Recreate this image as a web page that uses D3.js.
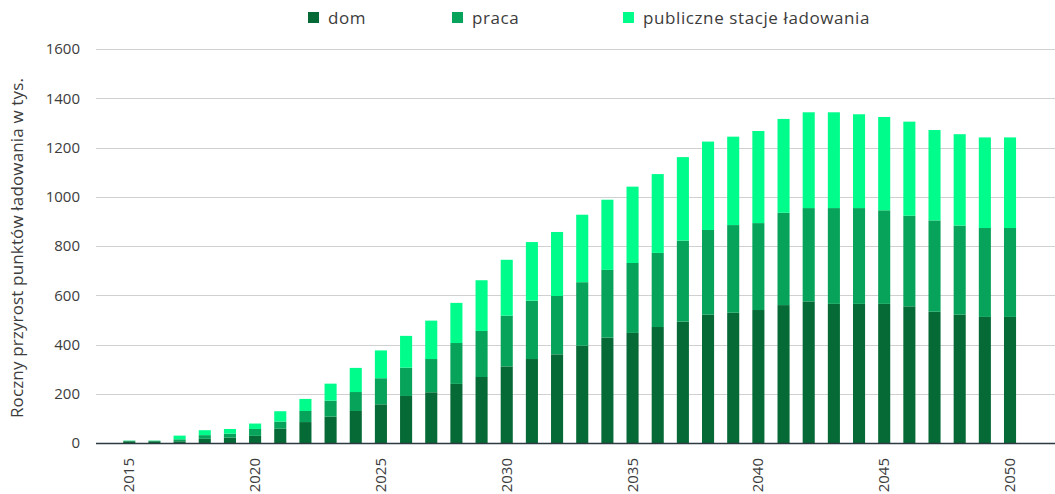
<!DOCTYPE html>
<html>
<head>
<meta charset="utf-8">
<script src="https://cdn.jsdelivr.net/npm/d3@7"></script>
<style>
  body { margin: 0; background: #fff; }
  svg { display: block; font-family: "Open Sans", sans-serif; }
</style>
</head>
<body>
<svg id="chart" width="1055" height="494"></svg>
<script>
// values in thousands
const years = d3.range(2015, 2051);
const dom = [7, 7, 7, 17, 22, 29, 58, 85, 107, 130, 157, 191, 206, 240, 268, 311, 341, 360, 395, 428,
             447, 471, 493, 521, 529, 540, 560, 575, 565, 565, 565, 555, 533, 521, 512, 512];
const praca = [2, 2, 8, 15, 16, 28, 29, 45, 65, 77, 106, 115, 135, 166, 187, 206, 237, 237, 258, 275,
               284, 301, 329, 344, 356, 353, 375, 379, 389, 389, 380, 368, 371, 362, 361, 361];
const publiczne = [1, 1, 15, 20, 19, 22, 42, 49, 69, 98, 113, 129, 156, 163, 206, 227, 238, 260, 274, 285,
                   310, 320, 339, 359, 359, 374, 381, 389, 389, 381, 379, 382, 367, 371, 368, 368];
const seriesNames = ["dom", "praca", "publiczne stacje ładowania"];
const yTicks = [0, 200, 400, 600, 800, 1000, 1200, 1400, 1600];
const xTickYears = [2015, 2020, 2025, 2030, 2035, 2040, 2045, 2050];

const colors = ["#066a36", "#08a35a", "#00fd8b"];

const svg = d3.select("#chart");

const rows = years.map((yr, i) => ({year: yr, dom: dom[i], praca: praca[i], pub: publiczne[i]}));
const stack = d3.stack().keys(["dom", "praca", "pub"]);
const layers = stack(rows);

const x = d3.scaleBand()
    .domain(years)
    .range([116.7, 1022.6])
    .paddingInner(0.52)
    .paddingOuter(0.26);

const y = d3.scaleLinear()
    .domain([0, 1600])
    .range([443, 49]);

// gridlines
svg.append("g")
    .selectAll("line")
    .data(yTicks.filter(d => d > 0))
    .join("line")
    .attr("x1", 96)
    .attr("x2", 1055)
    .attr("y1", d => Math.round(y(d)) + 0.5)
    .attr("y2", d => Math.round(y(d)) + 0.5)
    .attr("stroke", "#d0d0d0")
    .attr("stroke-width", 1);

// y tick labels
svg.append("g")
    .selectAll("text")
    .data(yTicks)
    .join("text")
    .attr("x", 80)
    .attr("y", d => y(d))
    .attr("dy", "0.35em")
    .attr("text-anchor", "end")
    .attr("font-size", 15)
    .attr("fill", "#3c3c3c")
    .text(d => d);

// bars
svg.append("g")
    .selectAll("g")
    .data(layers)
    .join("g")
    .attr("fill", (d, i) => colors[i])
    .selectAll("rect")
    .data(d => d)
    .join("rect")
    .attr("x", d => x(d.data.year))
    .attr("width", x.bandwidth())
    .attr("y", d => y(d[1]))
    .attr("height", d => y(d[0]) - y(d[1]));

// baseline
svg.append("line")
    .attr("x1", 96)
    .attr("x2", 1055)
    .attr("y1", 443.5)
    .attr("y2", 443.5)
    .attr("stroke", "#2d3a40")
    .attr("stroke-width", 1.5);

// x tick labels, rotated
svg.append("g")
    .selectAll("text")
    .data(xTickYears)
    .join("text")
    .attr("transform", d => `translate(${x(d) + x.bandwidth() / 2 + 5},458) rotate(-90)`)
    .attr("text-anchor", "end")
    .attr("font-size", 15)
    .attr("fill", "#3c3c3c")
    .text(d => d);

// y axis title
svg.append("text")
    .attr("transform", "translate(23,248) rotate(-90)")
    .attr("text-anchor", "middle")
    .attr("font-size", 17)
    .attr("letter-spacing", 0.15)
    .attr("fill", "#3c3c3c")
    .text("Roczny przyrost punktów ładowania w tys.");

// legend
const legendX = [308, 452, 623];
const legend = svg.append("g")
    .selectAll("g")
    .data(seriesNames)
    .join("g")
    .attr("transform", (d, i) => `translate(${legendX[i]},12)`);

legend.append("rect")
    .attr("width", 11)
    .attr("height", 11)
    .attr("fill", (d, i) => colors[i]);

legend.append("text")
    .attr("x", 20)
    .attr("y", 6)
    .attr("dy", "0.35em")
    .attr("font-size", 17)
    .attr("letter-spacing", 0.6)
    .attr("fill", "#3c3c3c")
    .text(d => d);
</script>
</body>
</html>
